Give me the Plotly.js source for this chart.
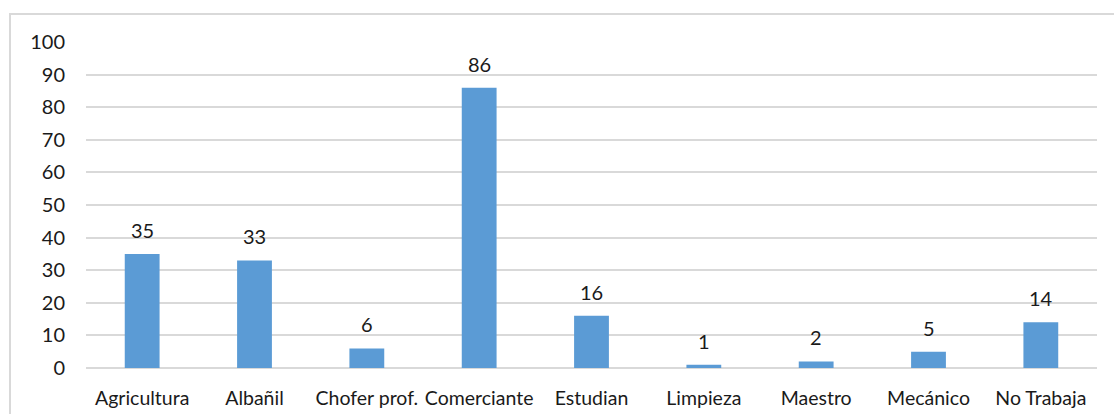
<!DOCTYPE html>
<html>
<head>
<meta charset="utf-8">
<script src="https://cdn.plot.ly/plotly-3.0.1.min.js"></script>
<style>
  html, body { margin: 0; padding: 0; background: #fff; }
  #wrap { position: relative; width: 1114px; height: 414px; overflow: hidden; }
  #frame { position: absolute; left: 9px; top: 13px; width: 1200px; height: 500px;
           border-left: 2px solid #d9d9d9; border-top: 2px solid #d9d9d9; box-sizing: border-box; }
  #chart { position: absolute; left: 0; top: 0; width: 1114px; height: 414px; }
</style>
</head>
<body>
<div id="wrap">
  <div id="frame"></div>
  <div id="chart"></div>
</div>
<script>
const categories = ["Agricultura", "Albañil", "Chofer prof.", "Comerciante", "Estudian", "Limpieza", "Maestro", "Mecánico", "No Trabaja"];
const values = [35, 33, 6, 86, 16, 1, 2, 5, 14];
const yTicks = [0, 10, 20, 30, 40, 50, 60, 70, 80, 90, 100];

const fontFamily = "Lato, 'Open Sans', sans-serif";
const textColor = "#1a1a1a";

const trace = {
  type: "bar",
  x: categories,
  y: values,
  marker: { color: "#5B9BD5" },
  hoverinfo: "skip"
};

const annotations = categories.map((c, i) => ({
  x: c, y: values[i], xref: "x", yref: "y",
  text: String(values[i]), showarrow: false,
  yanchor: "bottom", yshift: 10,
  font: { family: fontFamily, size: 20, color: textColor }
}));

const layout = {
  width: 1114, height: 414,
  margin: { l: 86, r: 17, t: 42, b: 46 },
  paper_bgcolor: "rgba(0,0,0,0)",
  plot_bgcolor: "rgba(0,0,0,0)",
  bargap: 0.69,
  showlegend: false,
  font: { family: fontFamily, size: 20, color: textColor },
  xaxis: {
    type: "category",
    showgrid: false, zeroline: false, showline: false,
    ticks: "", ticklabelstandoff: 16,
    tickfont: { family: fontFamily, size: 19.5, color: textColor }
  },
  yaxis: {
    range: [0, 100], tickvals: yTicks, ticktext: yTicks.map(String),
    showgrid: true, gridcolor: "#d9d9d9", gridwidth: 2,
    zeroline: true, zerolinecolor: "#d9d9d9", zerolinewidth: 2,
    showline: false, ticks: "", ticklabelstandoff: 20,
    tickfont: { family: fontFamily, size: 20, color: textColor },
    fixedrange: true
  },
  annotations: annotations
};

Plotly.newPlot("chart", [trace], layout, { displayModeBar: false, staticPlot: true });
</script>
</body>
</html>
